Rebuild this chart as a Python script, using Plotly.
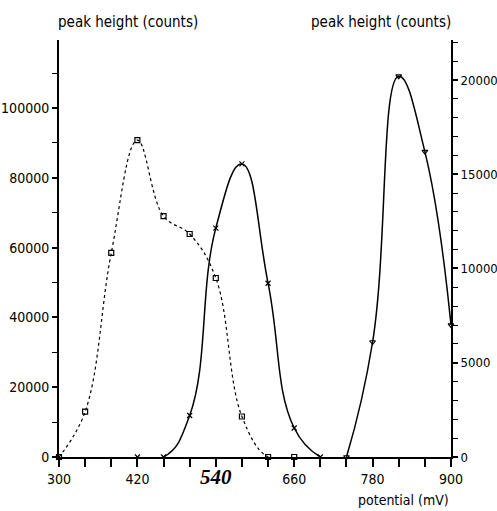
import plotly.graph_objects as go

# potential (mV)
pot_a = [300, 340, 380, 420, 460, 500, 540, 580, 620, 660]
counts_a = [0, 13000, 58500, 90800, 69000, 63900, 51300, 11600, 0, 0]

pot_b = [420, 460, 500, 540, 580, 620, 660, 700]
counts_b = [0, 0, 11900, 65600, 84000, 49800, 8300, 0]

pot_c = [740, 780, 820, 860, 900]
counts_c = [0, 6100, 20200, 16200, 7000]

x_tickvals = [300, 340, 380, 420, 460, 500, 540, 580, 620, 660, 700, 740, 780, 820, 860, 900]
x_ticktext = ["300", "", "", "420", "", "",
              "<span style='font-family:Liberation Serif;font-size:21px'><b><i>540</i></b></span>",
              "", "", "660", "", "", "780", "", "", "900"]

FONT = "DejaVu Sans Condensed, Liberation Sans Narrow, Liberation Sans, sans-serif"

fig = go.Figure()
fig.add_trace(go.Scatter(
    x=pot_a, y=counts_a, mode="lines+markers",
    line=dict(color="black", width=1.2, dash="dot", shape="spline", smoothing=1.1),
    marker=dict(symbol="square-open", size=5, color="black", line=dict(width=1.2)),
    yaxis="y", cliponaxis=False, showlegend=False))
fig.add_trace(go.Scatter(
    x=pot_b, y=counts_b, mode="lines+markers",
    line=dict(color="black", width=1.5, shape="spline", smoothing=1.3),
    marker=dict(symbol="x-thin-open", size=5, color="black", line=dict(width=1.2, color="black")),
    yaxis="y", showlegend=False))
fig.add_trace(go.Scatter(
    x=pot_c, y=counts_c, mode="lines+markers",
    line=dict(color="black", width=1.5, shape="spline", smoothing=1.3),
    marker=dict(symbol="triangle-down-open", size=5, color="black", line=dict(width=1.2)),
    yaxis="y2", cliponaxis=False, showlegend=False))

axis_common = dict(showgrid=False, zeroline=False, showline=True, linecolor="black",
                   linewidth=2, ticks="outside", tickcolor="black", tickwidth=1.5,
                   automargin=False)

fig.update_layout(
    width=497, height=511,
    margin=dict(l=59, r=46, t=40, b=54),
    paper_bgcolor="white", plot_bgcolor="white",
    xaxis=dict(range=[300, 900], tickmode="array", tickvals=x_tickvals, ticktext=x_ticktext,
               ticklen=8, tickfont=dict(family=FONT, size=14, color="black"), **axis_common),
    yaxis=dict(range=[0, 119500], dtick=20000, tickformat="d", ticklen=5,
               tickfont=dict(family=FONT, size=14, color="black"),
               minor=dict(dtick=10000, ticks="outside", ticklen=5, tickcolor="black", tickwidth=1.2),
               **axis_common),
    yaxis2=dict(range=[0, 22120], dtick=5000, tickformat="d", ticklen=5, overlaying="y",
                side="right", anchor="x",
                tickfont=dict(family=FONT, size=13, color="black"),
                minor=dict(dtick=1000, ticks="outside", ticklen=5, tickcolor="black", tickwidth=1.2),
                **axis_common),
    annotations=[
        dict(text="peak height (counts)", xref="paper", yref="paper", x=0, y=1,
             xanchor="left", yanchor="bottom", yshift=7, xshift=-3, showarrow=False,
             font=dict(family=FONT, size=15, color="black")),
        dict(text="peak height (counts)", xref="paper", yref="paper", x=1, y=1,
             xanchor="right", yanchor="bottom", yshift=7, xshift=2, showarrow=False,
             font=dict(family=FONT, size=15, color="black")),
        dict(text="potential (mV)", xref="paper", yref="paper", x=1, y=0,
             xanchor="right", yanchor="top", yshift=-33, showarrow=False,
             font=dict(family=FONT, size=14, color="black")),
    ],
)

fig.write_html("out.html", config={"displayModeBar": False},
               post_script="document.body.style.margin='0px';")
